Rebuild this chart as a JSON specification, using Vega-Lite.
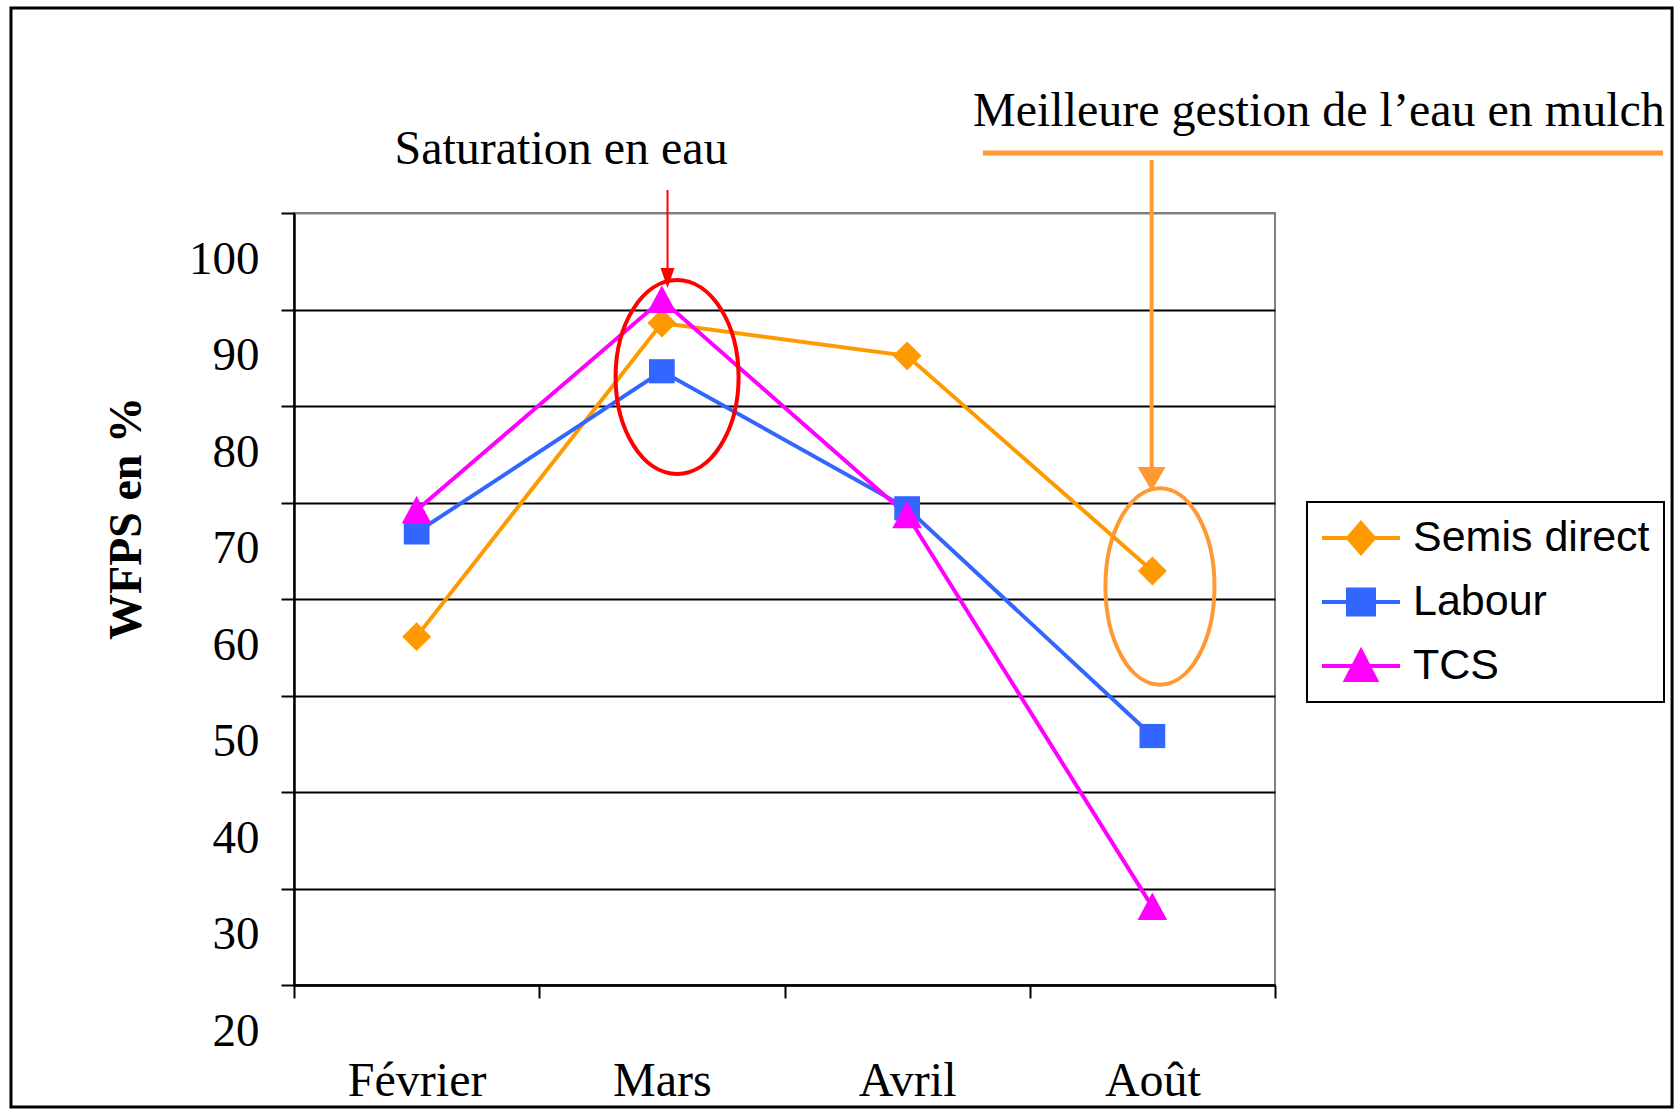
{
  "$schema": "https://vega.github.io/schema/vega-lite/v6.json",
  "width": 981,
  "height": 772,
  "autosize": {"type": "none"},
  "padding": {"left": 294, "top": 213, "right": 400, "bottom": 124},
  "background": "white",
  "config": {
    "view": {"stroke": "#808080", "strokeWidth": 2},
    "font": "Liberation Serif"
  },
  "resolve": {"scale": {"x": "independent"}},
  "layer": [
    {
      "data": {
        "values": [
          {"mois": "Février", "serie": "Semis direct", "wfps": 56.1},
          {"mois": "Mars", "serie": "Semis direct", "wfps": 88.6},
          {"mois": "Avril", "serie": "Semis direct", "wfps": 85.2},
          {"mois": "Août", "serie": "Semis direct", "wfps": 62.9},
          {"mois": "Février", "serie": "Labour", "wfps": 66.9},
          {"mois": "Mars", "serie": "Labour", "wfps": 83.6},
          {"mois": "Avril", "serie": "Labour", "wfps": 69.4},
          {"mois": "Août", "serie": "Labour", "wfps": 45.8},
          {"mois": "Février", "serie": "TCS", "wfps": 69.2},
          {"mois": "Mars", "serie": "TCS", "wfps": 91.0},
          {"mois": "Avril", "serie": "TCS", "wfps": 68.7},
          {"mois": "Août", "serie": "TCS", "wfps": 28.1}
        ]
      },
      "encoding": {
        "x": {
          "field": "mois",
          "type": "ordinal",
          "sort": ["Février", "Mars", "Avril", "Août"],
          "scale": {"type": "band", "paddingInner": 0, "paddingOuter": 0},
          "axis": {
            "title": null,
            "tickBand": "extent",
            "tickSize": 13,
            "tickWidth": 2,
            "tickColor": "black",
            "domainColor": "black",
            "domainWidth": 2.5,
            "labelFont": "Liberation Serif",
            "labelFontSize": 48,
            "labelColor": "black",
            "labelPadding": 59,
            "labelAngle": 0,
            "grid": false
          }
        },
        "y": {
          "field": "wfps",
          "type": "quantitative",
          "scale": {"domain": [20, 100], "nice": false, "zero": false},
          "axis": {
            "values": [20, 30, 40, 50, 60, 70, 80, 90, 100],
            "title": "WFPS en %",
            "titleFont": "Liberation Serif",
            "titleFontSize": 46,
            "titleFontWeight": "bold",
            "titleColor": "black",
            "titleX": -154,
            "titleY": 305,
            "titleBaseline": "alphabetic",
            "titleAngle": -90,
            "titleAlign": "center",
            "grid": true,
            "gridColor": {"condition": {"test": "datum.value === 100", "value": "#808080"}, "value": "black"},
            "gridWidth": 2,
            "tickSize": 13,
            "tickWidth": 2,
            "tickColor": "black",
            "domainColor": "black",
            "domainWidth": 2.5,
            "labelFont": "Liberation Serif",
            "labelFontSize": 47,
            "labelColor": "black",
            "labelOffset": 46,
            "labelPadding": 22
          }
        }
      },
      "layer": [
        {
          "mark": {"type": "line", "strokeWidth": 4},
          "encoding": {
            "stroke": {
              "field": "serie",
              "type": "nominal",
              "scale": {"domain": ["TCS", "Labour", "Semis direct"], "range": ["#FF00FF", "#3366FF", "#FF9900"]},
              "legend": null
            }
          }
        },
        {
          "mark": {"type": "point", "filled": true, "opacity": 1, "size": 6084},
          "encoding": {
            "fill": {
              "field": "serie",
              "type": "nominal",
              "scale": {"domain": ["Semis direct", "Labour", "TCS"], "range": ["#FF9900", "#3366FF", "#FF00FF"]},
              "legend": {
                "title": null,
                "orient": "none",
                "legendX": 1013,
                "legendY": 289,
                "labelFont": "Liberation Sans",
                "labelFontSize": 43,
                "labelColor": "black",
                "labelLimit": 500,
                "labelOffset": 30,
                "symbolSize": 1600,
                "symbolStrokeWidth": 4,
                "symbolOffset": 18,
                "strokeColor": "black",
                "fillColor": "white",
                "padding": 14,
                "rowPadding": 19,
                "symbolOpacity": 1,
                "encoding": {
                  "legend": {"strokeWidth": {"value": 2}},
                  "symbols": {
                    "stroke": {
                      "condition": [
                        {"test": "datum.value === 'Semis direct'", "value": "#FF9900"},
                        {"test": "datum.value === 'Labour'", "value": "#3366FF"}
                      ],
                      "value": "#FF00FF"
                    },
                    "shape": {
                      "condition": [
                        {"test": "datum.value === 'Semis direct'", "value": "M -1.95 0 L 1.95 0 M 0 -0.75 L 0.65 0 L 0 0.75 L -0.65 0 Z"},
                        {"test": "datum.value === 'Labour'", "value": "M -1.95 0 L 1.95 0 M -0.65 -0.63 L 0.65 -0.63 L 0.65 0.63 L -0.65 0.63 Z"}
                      ],
                      "value": "M -1.95 0 L 1.95 0 M 0 -0.75 L 0.75 0.7 L -0.75 0.7 Z"
                    },
                    "strokeWidth": {"value": 4},
                    "opacity": {"value": 1},
                    "strokeOpacity": {"value": 1}
                  }
                }
              }
            },
            "shape": {
              "field": "serie",
              "type": "nominal",
              "scale": {
                "domain": ["Labour", "Semis direct", "TCS"],
                "range": [
                  "M -0.33 -0.31 L 0.33 -0.31 L 0.33 0.31 L -0.33 0.31 Z",
                  "M 0 -0.37 L 0.37 0 L 0 0.37 L -0.37 0 Z",
                  "M 0 -0.37 L 0.38 0.34 L -0.38 0.34 Z"
                ]
              },
              "legend": null
            }
          }
        }
      ]
    },
    {
      "data": {"values": [{}]},
      "layer": [
        {
          "mark": {"type": "rect", "fillOpacity": 0, "stroke": "black", "strokeWidth": 3},
          "encoding": {
            "x": {"datum": -1.154, "type": "quantitative", "scale": {"domain": [0, 4], "nice": false, "zero": false}, "axis": null},
            "x2": {"datum": 5.619},
            "y": {"datum": 121.24, "type": "quantitative"},
            "y2": {"datum": 7.36}
          }
        },
        {
          "mark": {"type": "rule", "color": "#FF0000", "strokeWidth": 2},
          "encoding": {
            "x": {"datum": 1.523, "type": "quantitative", "axis": null},
            "y": {"datum": 102.38, "type": "quantitative"},
            "y2": {"datum": 94.1}
          }
        },
        {
          "mark": {"type": "point", "filled": true, "color": "#FF0000", "opacity": 1, "size": 1600, "shape": "M -0.35 -1 L 0.35 -1 L 0 0 Z"},
          "encoding": {
            "x": {"datum": 1.523, "type": "quantitative", "axis": null},
            "y": {"datum": 92.23, "type": "quantitative"}
          }
        },
        {
          "mark": {"type": "point", "filled": false, "color": "#FF0000", "opacity": 1, "strokeWidth": 4, "size": 37636, "shape": "M -0.634 0 A 0.634 1 0 1 0 0.634 0 A 0.634 1 0 1 0 -0.634 0 Z"},
          "encoding": {
            "x": {"datum": 1.562, "type": "quantitative", "axis": null},
            "y": {"datum": 83.0, "type": "quantitative"}
          }
        },
        {
          "mark": {"type": "rule", "color": "#FF9933", "strokeWidth": 5},
          "encoding": {
            "x": {"datum": 2.809, "type": "quantitative", "axis": null},
            "x2": {"datum": 5.582},
            "y": {"datum": 106.22, "type": "quantitative"}
          }
        },
        {
          "mark": {"type": "rule", "color": "#FF9933", "strokeWidth": 4},
          "encoding": {
            "x": {"datum": 3.497, "type": "quantitative", "axis": null},
            "y": {"datum": 105.49, "type": "quantitative"},
            "y2": {"datum": 73.37}
          }
        },
        {
          "mark": {"type": "point", "filled": true, "color": "#FF9933", "opacity": 1, "size": 2304, "shape": "M -0.583 -1 L 0.583 -1 L 0 0 Z"},
          "encoding": {
            "x": {"datum": 3.497, "type": "quantitative", "axis": null},
            "y": {"datum": 71.19, "type": "quantitative"}
          }
        },
        {
          "mark": {"type": "point", "filled": false, "color": "#FF9933", "opacity": 1, "strokeWidth": 4, "size": 38612, "shape": "M -0.555 0 A 0.555 1 0 1 0 0.555 0 A 0.555 1 0 1 0 -0.555 0 Z"},
          "encoding": {
            "x": {"datum": 3.531, "type": "quantitative", "axis": null},
            "y": {"datum": 61.3, "type": "quantitative"}
          }
        },
        {
          "mark": {"type": "text", "text": "Saturation en eau", "font": "Liberation Serif", "fontSize": 48, "color": "black", "align": "center", "baseline": "middle"},
          "encoding": {
            "x": {"datum": 1.089, "type": "quantitative", "axis": null},
            "y": {"datum": 106.5, "type": "quantitative"}
          }
        },
        {
          "mark": {"type": "text", "text": "Meilleure gestion de l’eau en mulch", "font": "Liberation Serif", "fontSize": 48, "color": "black", "align": "center", "baseline": "middle"},
          "encoding": {
            "x": {"datum": 4.179, "type": "quantitative", "axis": null},
            "y": {"datum": 110.47, "type": "quantitative"}
          }
        }
      ]
    }
  ]
}
